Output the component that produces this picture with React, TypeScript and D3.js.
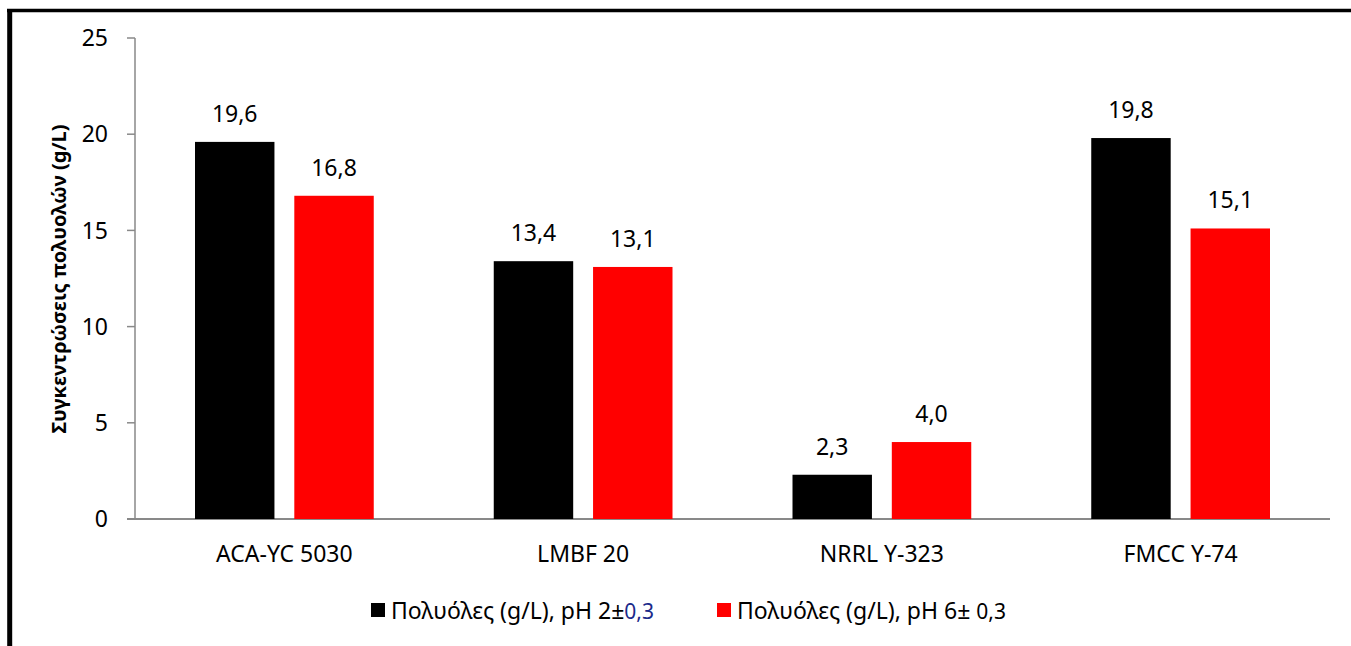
import React from "react";
import * as d3 from "d3";

const categories = ["ACA-YC 5030", "LMBF 20", "NRRL Y-323", "FMCC Y-74"];
const seriesNames = ["Πολυόλες (g/L), pH 2±", "Πολυόλες (g/L), pH 6± "];
const seriesSuffix = ["0,3", "0,3"];
const ph2Values = [19.6, 13.4, 2.3, 19.8];
const ph6Values = [16.8, 13.1, 4.0, 15.1];
const yTicks = [0, 5, 10, 15, 20, 25];
const yLabel = "Συγκεντρώσεις πολυολών (g/L)";

const W = 1351;
const H = 646;
const FONT = "'Noto Sans', 'Open Sans', sans-serif";
const colors = ["#000000", "#ff0000"];
const suffixColors = ["#1a2a8a", "#000000"];

export default function App() {
  const left = 135;
  const right = 1330;
  const top = 38;
  const bottom = 519;
  const x0 = d3.scaleBand<string>().domain(categories).range([left, right]).paddingInner(0).paddingOuter(0);
  const x1 = d3.scaleBand<string>().domain(["a", "b"]).range([60, x0.bandwidth() - 60]).paddingInner(0.2);
  const y = d3.scaleLinear().domain([0, 25]).range([bottom, top]);
  const series = [ph2Values, ph6Values];
  const fmt = (v: number) => v.toFixed(1).replace(".", ",");
  const legendX = [371, 717];

  return (
    <div style={{ position: "absolute", left: 0, top: 0, width: W, height: H, overflow: "hidden", background: "#fff" }}>
      <svg width={W} height={H} style={{ display: "block" }} fontFamily={FONT}>
        <rect x={0} y={0} width={W} height={H} fill="#fff" />
        {/* frame */}
        <line x1={7} y1={10.5} x2={W} y2={10.5} stroke="#000" strokeWidth={3.5} />
        <line x1={9.7} y1={9} x2={9.7} y2={H} stroke="#000" strokeWidth={5} />
        {/* axes */}
        <line x1={left} y1={top} x2={left} y2={bottom} stroke="#898989" strokeWidth={1.5} />
        <line x1={left - 8} y1={bottom} x2={right} y2={bottom} stroke="#898989" strokeWidth={2} />
        {yTicks.map((t) => (
          <g key={t}>
            <line x1={left - 8} x2={left} y1={y(t)} y2={y(t)} stroke="#898989" strokeWidth={1.5} />
            <text x={left - 27} y={y(t)} dy="0.36em" textAnchor="end" fontSize={23} fill="#000">{t}</text>
          </g>
        ))}
        {categories.map((c, i) => (
          <g key={c}>
            {series.map((s, k) => {
              const bx = (x0(c) as number) + (x1(k === 0 ? "a" : "b") as number);
              return (
                <g key={k}>
                  <rect x={bx} y={y(s[i])} width={x1.bandwidth()} height={bottom - y(s[i])} fill={colors[k]} />
                  <text x={bx + x1.bandwidth() / 2} y={y(s[i]) - 20} textAnchor="middle" fontSize={23} fill="#000">{fmt(s[i])}</text>
                </g>
              );
            })}
            <text x={(x0(c) as number) + x0.bandwidth() / 2} y={562} textAnchor="middle" fontSize={23} fill="#000">{c}</text>
          </g>
        ))}
        <text transform={`translate(66,279) rotate(-90)`} textAnchor="middle" fontSize={20} fontWeight="bold" fill="#000">{yLabel}</text>
        {/* legend */}
        {[0, 1].map((k) => {
          const lx = legendX[k];
          return (
            <g key={k}>
              <rect x={lx} y={603} width={14} height={14} fill={colors[k]} />
              <text x={lx + 20} y={619} fontSize={23} fill="#000">
                {seriesNames[k]}
                <tspan fill={suffixColors[k]} fontSize={21}>{seriesSuffix[k]}</tspan>
              </text>
            </g>
          );
        })}
      </svg>
    </div>
  );
}
